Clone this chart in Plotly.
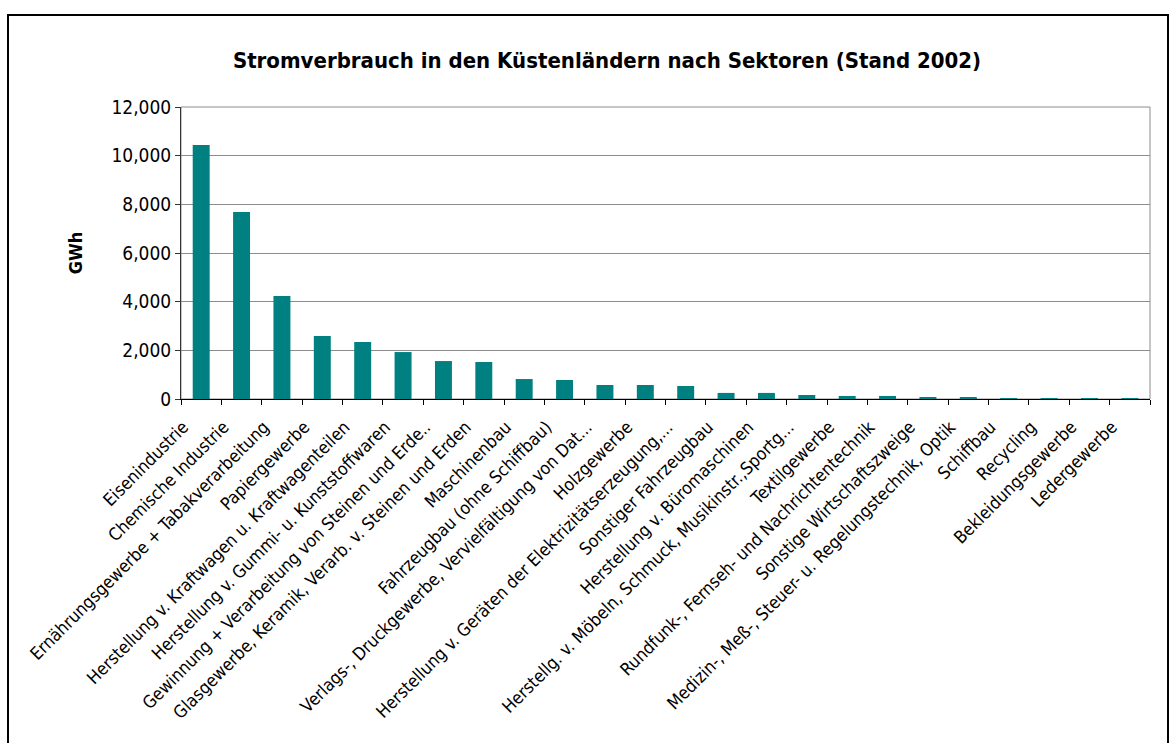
"""Stromverbrauch in den Kuestenlaendern nach Sektoren (Stand 2002)."""
import plotly.graph_objects as go

# Data
sectors = [
    "Eisenindustrie",
    "Chemische Industrie",
    "Ernährungsgewerbe + Tabakverarbeitung",
    "Papiergewerbe",
    "Herstellung v. Kraftwagen u. Kraftwagenteilen",
    "Herstellung v. Gummi- u. Kunststoffwaren",
    "Gewinnung + Verarbeitung von Steinen und Erde..",
    "Glasgewerbe, Keramik, Verarb. v. Steinen und Erden",
    "Maschinenbau",
    "Fahrzeugbau (ohne Schiffbau)",
    "Verlags-, Druckgewerbe, Vervielfältigung von Dat...",
    "Holzgewerbe",
    "Herstellung v. Geräten der Elektrizitätserzeugung,...",
    "Sonstiger Fahrzeugbau",
    "Herstellung v. Büromaschinen",
    "Herstellg. v. Möbeln, Schmuck, Musikinstr.,Sportg...",
    "Textilgewerbe",
    "Rundfunk-, Fernseh- und Nachrichtentechnik",
    "Sonstige Wirtschaftszweige",
    "Medizin-, Meß-, Steuer- u. Regelungstechnik, Optik",
    "Schiffbau",
    "Recycling",
    "Bekleidungsgewerbe",
    "Ledergewerbe",
]
gwh = [
    10440, 7680, 4230, 2590, 2340, 1930, 1560, 1520, 820, 780, 575, 575,
    535, 250, 250, 165, 125, 125, 80, 80, 40, 40, 10, 5,
]
y_ticks = [0, 2000, 4000, 6000, 8000, 10000, 12000]

title = "Stromverbrauch in den Küstenländern nach Sektoren (Stand 2002)"
FONT = "DejaVu Sans Condensed, DejaVu Sans, sans-serif"

W, H = 1170, 743
L, R, T, B = 181, 1150, 107, 399  # plot area in px


def px(x):
    return (x - L) / (R - L)


def py(y):
    return (B - y) / (B - T)


fig = go.Figure()
fig.add_trace(go.Bar(
    x=sectors,
    y=gwh,
    marker=dict(color="#008080", line=dict(width=0)),
    hoverinfo="x+y",
))

fig.update_layout(
    width=W,
    height=H,
    margin=dict(l=L, r=W - R, t=T, b=H - B),
    paper_bgcolor="white",
    plot_bgcolor="white",
    bargap=0.58,
    showlegend=False,
    font=dict(family=FONT, size=15, color="black"),
    title=dict(
        text=f"<b>{title}</b>",
        x=607 / W, xanchor="center",
        y=1 - 60 / H, yanchor="middle",
        font=dict(family=FONT, size=22, color="black"),
    ),
    xaxis=dict(
        type="category",
        tickangle=-45,
        tickson="boundaries",
        ticks="outside",
        ticklen=5,
        tickcolor="black",
        ticklabelstandoff=10,
        ticklabelshift=-18,
        showline=True,
        linecolor="black",
        linewidth=1,
        showgrid=False,
        tickfont=dict(family=FONT, size=17.5, color="black"),
    ),
    yaxis=dict(
        range=[0, 12000],
        tickvals=y_ticks,
        tickformat=",",
        ticks="outside",
        ticklen=5,
        tickcolor="#333333",
        showline=True,
        linecolor="#333333",
        linewidth=1,
        showgrid=True,
        gridcolor="#8c8c8c",
        gridwidth=1,
        zeroline=False,
        tickfont=dict(family=FONT, size=19, color="black"),
        title=dict(
            text="<b>GWh</b>",
            font=dict(family=FONT, size=18, color="black"),
            standoff=24,
        ),
    ),
    shapes=[
        # plot-area border
        dict(type="rect", xref="paper", yref="paper", x0=0, x1=1, y0=0, y1=1,
             line=dict(color="#8c8c8c", width=1), layer="below"),
        # outer chart frame
        dict(type="rect", xref="paper", yref="paper",
             x0=px(8), x1=px(1168), y0=py(760), y1=py(15),
             line=dict(color="black", width=2)),
    ],
)

fig.write_html(
    "out.html",
    config={"displayModeBar": False},
    post_script="document.body.style.margin='0';",
)
